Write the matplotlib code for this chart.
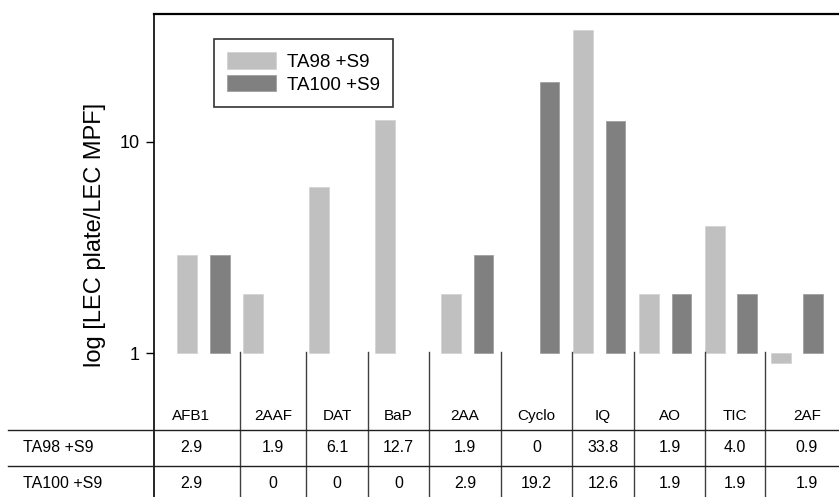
import numpy as np
import matplotlib
matplotlib.use("Agg")
import matplotlib.pyplot as plt
from matplotlib.lines import Line2D

plt.rcParams['font.family'] = ['Liberation Sans', 'DejaVu Sans']

# Data
compounds = ["AFB1", "2AAF", "DAT", "BaP", "2AA", "Cyclo", "IQ", "AO", "TIC", "2AF"]
ta98 = [2.9, 1.9, 6.1, 12.7, 1.9, 0, 33.8, 1.9, 4.0, 0.9]
ta100 = [2.9, 0, 0, 0, 2.9, 19.2, 12.6, 1.9, 1.9, 1.9]
ta98_labels = ["2.9", "1.9", "6.1", "12.7", "1.9", "0", "33.8", "1.9", "4.0", "0.9"]
ta100_labels = ["2.9", "0", "0", "0", "2.9", "19.2", "12.6", "1.9", "1.9", "1.9"]
series_names = ["TA98 +S9", "TA100 +S9"]
colors = ["#c0c0c0", "#808080"]

W, H = 839, 497
fig = plt.figure(figsize=(W / 100, H / 100), dpi=100)

# axes spans from the top line down to the bottom of the picture
ax_left, ax_top = 154, 14
ax = fig.add_axes([ax_left / W, 0, (W - ax_left) / W + 0.002, (H - ax_top) / H])

# log axis: 1 at y=353px, 10 at y=142px
dec = 353 - 142
ax.set_yscale("log")
ax.set_ylim(10 ** ((353 - H) / dec), 10 ** ((353 - ax_top) / dec))
# one category = 66 px, category k centered at 203.5 + 66k
ax.set_xlim((ax_left - 203.5) / 66, (W + 2 - 203.5) / 66)

x = np.arange(len(compounds))
a98 = np.array(ta98)
a100 = np.array(ta100)
m98 = a98 > 0
m100 = a100 > 0
ax.bar(x[m98] - 0.25, a98[m98] - 1, bottom=1, width=0.3, color=colors[0],
       edgecolor="#d4d4d4", linewidth=0.6, label=series_names[0])
ax.bar(x[m100] + 0.245, a100[m100] - 1, bottom=1, width=0.3, color=colors[1],
       edgecolor="#a0a0a0", linewidth=0.6, label=series_names[1])

ax.set_yticks([1, 10])
ax.set_yticklabels(["1", "10"], fontsize=13)
ax.yaxis.set_minor_locator(matplotlib.ticker.NullLocator())
ax.tick_params(axis="y", direction="out", length=6, width=1, pad=4)
ax.set_xticks([])
for s in ["right", "bottom"]:
    ax.spines[s].set_visible(False)
ax.spines["left"].set_linewidth(1.2)
ax.spines["top"].set_linewidth(1.6)

fig.text(95 / W, 1 - 235 / H, "log [LEC plate/LEC MPF]", rotation=90,
         ha="center", va="center", fontsize=17)

leg = ax.legend(loc="upper left", bbox_to_anchor=((214 - ax_left) / (W - ax_left), 1 - (39 - ax_top) / (H - ax_top)),
                fontsize=13.5, frameon=True, fancybox=False, edgecolor="black",
                handlelength=2.6, handleheight=1.0, borderpad=0.7, labelspacing=0.2,
                handletextpad=0.6, borderaxespad=0)
leg.get_frame().set_linewidth(1.2)

# table below the bars
def px(xp, yp):
    return xp / W, 1 - yp / H

col_edges = [154, 240, 306, 368, 429, 501, 572, 634, 705, 765, 849]
for xe in col_edges[1:-1]:
    fig.add_artist(Line2D([px(xe, 0)[0]] * 2, [px(0, 352)[1], 0], color="#404040", lw=1))
for ye in [430, 466]:
    fig.add_artist(Line2D([px(8, 0)[0], 1], [px(0, ye)[1]] * 2, color="#202020", lw=1))

centers = [(col_edges[i] + col_edges[i + 1]) / 2 for i in range(len(compounds))]
centers[0] = 191
for i, c in enumerate(centers):
    fig.text(*px(c, 416), compounds[i], ha="center", va="center", fontsize=11)
    fig.text(*px(c, 448), ta98_labels[i], ha="center", va="center", fontsize=11.5)
    fig.text(*px(c, 483), ta100_labels[i], ha="center", va="center", fontsize=11.5)
fig.text(*px(23, 448), series_names[0], ha="left", va="center", fontsize=11.5)
fig.text(*px(23, 483), series_names[1], ha="left", va="center", fontsize=11.5)

fig.savefig("out.png", dpi=100)
